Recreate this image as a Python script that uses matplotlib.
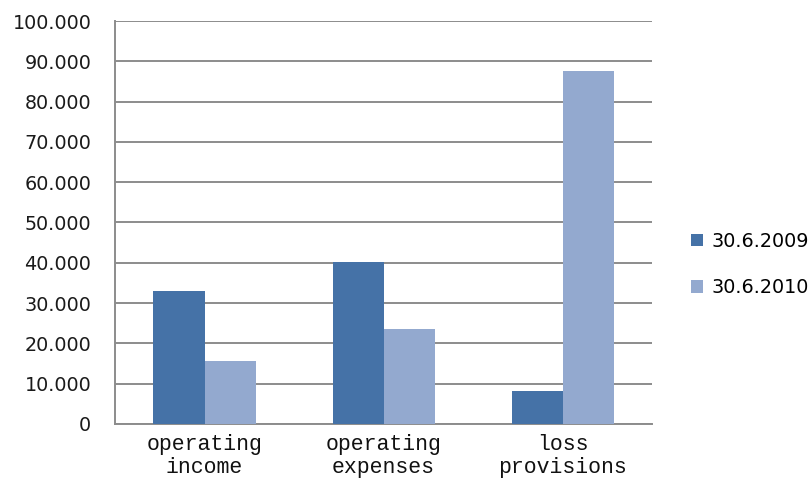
import numpy as np
import matplotlib
matplotlib.use('Agg')
import matplotlib.pyplot as plt

categorias = ['operating\nincome', 'operating\nexpenses', 'loss\nprovisions']
serie_2009 = [33000, 40300, 8200]
serie_2010 = [15700, 23600, 87600]
etiquetas = ['30.6.2009', '30.6.2010']
colores = ['#4572a7', '#93a9cf']

plt.rcParams['ytick.major.pad'] = 17
plt.rcParams['xtick.major.pad'] = 7
plt.rcParams['ytick.major.size'] = 0
plt.rcParams['xtick.major.size'] = 0

fig = plt.figure(figsize=(8.12, 4.83), dpi=100)
ax = fig.add_axes([0.1416, 0.1222, 0.6615, 0.8343])

x = np.arange(len(categorias))
ancho = 0.285
ax.bar(x - ancho/2, serie_2009, ancho, color=colores[0], label=etiquetas[0], zorder=3)
ax.bar(x + ancho/2, serie_2010, ancho, color=colores[1], label=etiquetas[1], zorder=3)

ax.set_xlim(-0.5, 2.5)
ax.set_ylim(0, 100000)
ax.set_yticks(np.arange(0, 100001, 10000))
ax.set_yticklabels(['0'] + [f'{v//1000}.000' for v in range(10000, 100001, 10000)],
                   fontsize=13.8, color='#1a1a1a')
ax.set_xticks(x)
ax.set_xticklabels(categorias, fontfamily='Liberation Mono', fontsize=15.5,
                   linespacing=1.12, color='#111111')

ax.grid(axis='y', color='#8c8c8c', linewidth=1.4, zorder=0)
for s in ['top', 'right']:
    ax.spines[s].set_visible(False)
for s in ['left', 'bottom']:
    ax.spines[s].set_color('#8c8c8c')
    ax.spines[s].set_linewidth(1.4)

h, l = ax.get_legend_handles_labels()
fig.legend(h, l, loc='center left', bbox_to_anchor=(0.851, 0.4524), frameon=False,
           fontsize=13.8, handlelength=0.62, handleheight=0.62, handletextpad=0.45,
           labelspacing=1.45, borderpad=0, borderaxespad=0)

fig.savefig('out.png', dpi=100)
